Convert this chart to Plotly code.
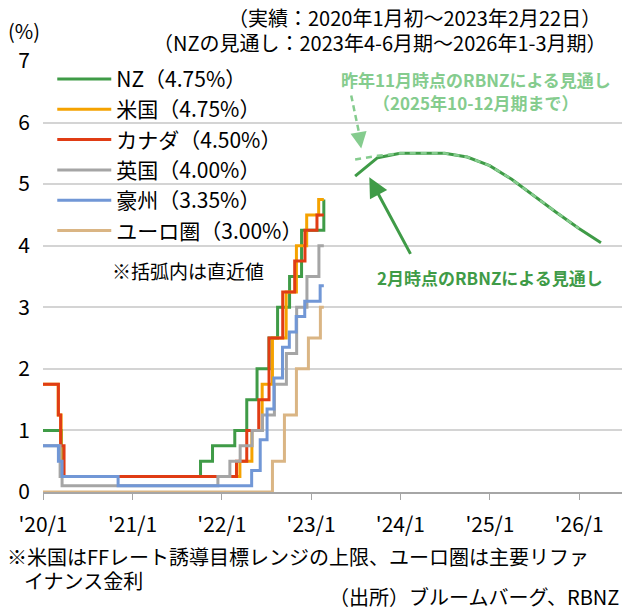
import plotly.graph_objects as go

FONT = "Noto Sans CJK JP"

# ---- data: policy rate change points (date, rate %) ----
END = "2023-02-22"
nz_dates = ["2020-01-01", "2020-03-16", "2021-10-06", "2021-11-24", "2022-02-23", "2022-04-13",
            "2022-05-25", "2022-07-13", "2022-08-17", "2022-10-05", "2022-11-23", "2023-02-22"]
nz_vals = [1.00, 0.25, 0.50, 0.75, 1.00, 1.50, 2.00, 2.50, 3.00, 3.50, 4.25, 4.75]

us_dates = ["2020-01-01", "2020-03-03", "2020-03-15", "2022-03-16", "2022-05-04", "2022-06-15",
            "2022-07-27", "2022-09-21", "2022-11-02", "2022-12-14", "2023-02-01"]
us_vals = [1.75, 1.25, 0.25, 0.50, 1.00, 1.75, 2.50, 3.25, 4.00, 4.50, 4.75]

ca_dates = ["2020-01-01", "2020-03-04", "2020-03-13", "2020-03-27", "2022-03-02", "2022-04-13",
            "2022-06-01", "2022-07-13", "2022-09-07", "2022-10-26", "2022-12-07", "2023-01-25"]
ca_vals = [1.75, 1.25, 0.75, 0.25, 0.50, 1.00, 1.50, 2.50, 3.25, 3.75, 4.25, 4.50]

uk_dates = ["2020-01-01", "2020-03-11", "2020-03-19", "2021-12-16", "2022-02-03", "2022-03-17",
            "2022-05-05", "2022-06-16", "2022-08-04", "2022-09-22", "2022-11-03", "2022-12-15", "2023-02-02"]
uk_vals = [0.75, 0.25, 0.10, 0.25, 0.50, 0.75, 1.00, 1.25, 1.75, 2.25, 3.00, 3.50, 4.00]

au_dates = ["2020-01-01", "2020-03-04", "2020-03-19", "2020-11-03", "2022-05-03", "2022-06-07",
            "2022-07-05", "2022-08-02", "2022-09-06", "2022-10-04", "2022-11-01", "2022-12-06", "2023-02-07"]
au_vals = [0.75, 0.50, 0.25, 0.10, 0.35, 0.85, 1.35, 1.85, 2.35, 2.60, 2.85, 3.10, 3.35]

eu_dates = ["2020-01-01", "2022-07-27", "2022-09-14", "2022-11-02", "2022-12-21", "2023-02-08"]
eu_vals = [0.00, 0.50, 1.25, 2.00, 2.50, 3.00]

# RBNZ OCR projections (quarter ends)
feb_q = ["2023-06-30", "2023-09-30", "2023-12-31", "2024-03-31", "2024-06-30", "2024-09-30",
         "2024-12-31", "2025-03-31", "2025-06-30", "2025-09-30", "2025-12-31", "2026-03-31"]
feb_vals = [5.13, 5.43, 5.50, 5.50, 5.50, 5.44, 5.30, 5.08, 4.81, 4.54, 4.28, 4.05]
nov_q = feb_q[:11]
nov_vals = [5.40, 5.46, 5.50, 5.50, 5.50, 5.44, 5.30, 5.08, 4.81, 4.54, 4.28]

x_tickvals = ["2020-01-01", "2021-01-01", "2022-01-01", "2023-01-01", "2024-01-01", "2025-01-01", "2026-01-01"]
x_ticktext = ["'20/1", "'21/1", "'22/1", "'23/1", "'24/1", "'25/1", "'26/1"]
y_ticks = [0, 1, 2, 3, 4, 5, 6, 7]

series = [
    ("NZ（4.75%）", nz_dates, nz_vals, "#3f9b47"),
    ("米国（4.75%）", us_dates, us_vals, "#f5a200"),
    ("カナダ（4.50%）", ca_dates, ca_vals, "#e03c14"),
    ("英国（4.00%）", uk_dates, uk_vals, "#a5a5a5"),
    ("豪州（3.35%）", au_dates, au_vals, "#7197d6"),
    ("ユーロ圏（3.00%）", eu_dates, eu_vals, "#dab584"),
]

fig = go.Figure()
for i, (name, d, v, c) in enumerate(series):
    xs = list(d)
    ys = list(v)
    if xs[-1] != END:
        xs.append(END)
        ys.append(ys[-1])
    fig.add_trace(go.Scatter(x=xs, y=ys, mode="lines", name=name, line=dict(color=c, width=3, shape="hv"),
                             legendgroup=str(i), hoverinfo="skip"))

fig.add_trace(go.Scatter(x=feb_q, y=feb_vals, mode="lines", line=dict(color="#3f9b47", width=3),
                         showlegend=False, hoverinfo="skip"))
fig.add_trace(go.Scatter(x=nov_q, y=nov_vals, mode="lines", line=dict(color="#85cc8e", width=2.5, dash="6px,5px"),
                         showlegend=False, hoverinfo="skip"))

LG = "#85cc8e"
DG = "#3f9b47"
ann = [
    dict(text="(%)", xref="paper", yref="paper", x=-0.064, y=1.07, xanchor="left", yanchor="middle",
         showarrow=False, font=dict(size=20)),
    dict(text="（実績：2020年1月初～2023年2月22日）", xref="paper", yref="paper", x=0.968, y=1.101,
         xanchor="right", yanchor="middle", showarrow=False, font=dict(size=20)),
    dict(text="（NZの見通し：2023年4-6月期～2026年1-3月期）", xref="paper", yref="paper", x=0.977, y=1.044,
         xanchor="right", yanchor="middle", showarrow=False, font=dict(size=20)),
    dict(text="※括弧内は直近値", xref="paper", yref="paper", x=0.115, y=0.515, xanchor="left", yanchor="middle",
         showarrow=False, font=dict(size=19)),
    dict(text="<b>昨年11月時点のRBNZによる見通し</b>", xref="paper", yref="paper", x=0.748, y=0.957,
         xanchor="center", yanchor="middle", showarrow=False, font=dict(size=17, color=LG)),
    dict(text="<b>（2025年10-12月期まで）</b>", xref="paper", yref="paper", x=0.748, y=0.903,
         xanchor="center", yanchor="middle", showarrow=False, font=dict(size=17, color=LG)),
    dict(text="<b>2月時点のRBNZによる見通し</b>", xref="paper", yref="paper", x=0.772, y=0.497,
         xanchor="center", yanchor="middle", showarrow=False, font=dict(size=17, color=DG)),
    # solid arrow
    dict(text="", x="2023-08-27", y=5.11, xref="x", yref="y", ax=42, ay=78, axref="pixel", ayref="pixel",
         showarrow=True, arrowhead=2, arrowsize=1.3, arrowwidth=3, arrowcolor=DG),
    # dashed arrow head
    dict(text="", x="2023-07-25", y=5.58, xref="x", yref="y", ax=-2, ay=-12, axref="pixel", ayref="pixel",
         showarrow=True, arrowhead=2, arrowsize=1.3, arrowwidth=2.5, arrowcolor=LG),
    dict(text="※米国はFFレート誘導目標レンジの上限、ユーロ圏は主要リファ", xref="paper", yref="paper",
         x=-0.066, y=-0.149, xanchor="left", yanchor="middle", showarrow=False, font=dict(size=20)),
    dict(text="イナンス金利", xref="paper", yref="paper",
         x=-0.037, y=-0.205, xanchor="left", yanchor="middle", showarrow=False, font=dict(size=20)),
    dict(text="（出所）ブルームバーグ、RBNZ", xref="paper", yref="paper",
         x=0.998, y=-0.243, xanchor="right", yanchor="middle", showarrow=False, font=dict(size=20)),
]

shapes = [
    dict(type="line", xref="x", yref="y", x0="2023-06-14", y0=6.44, x1="2023-07-22", y1=5.72,
         line=dict(color=LG, width=2.5, dash="6px,4px")),
]

fig.update_layout(
    width=624, height=609, autosize=False,
    margin=dict(l=43, r=2, t=61, b=117),
    paper_bgcolor="white", plot_bgcolor="white",
    font=dict(family=FONT, size=20, color="#000000"),
    showlegend=True,
    legend=dict(x=0.016, y=1.005, xanchor="left", yanchor="top", bgcolor="rgba(0,0,0,0)",
                font=dict(size=21), itemwidth=54, tracegroupgap=5, traceorder="normal"),
    annotations=ann, shapes=shapes,
    xaxis=dict(type="date", range=["2020-01-01", "2026-06-25"], tickvals=x_tickvals, ticktext=x_ticktext,
               showgrid=False, showline=True, linecolor="#a6a6a6", linewidth=1.5, ticks="outside",
               ticklen=6, tickcolor="#a6a6a6", tickfont=dict(size=21), zeroline=False, ticklabelstandoff=7),
    yaxis=dict(range=[0, 7], tickvals=y_ticks, showgrid=True, gridcolor="#d4d4d4", gridwidth=1.5,
               zeroline=False, showline=False, ticks="", tickfont=dict(size=21), ticklabelstandoff=12),
)

fig.write_html("out.html", config={"displayModeBar": False},
               post_script="document.body.style.margin='0px';")
